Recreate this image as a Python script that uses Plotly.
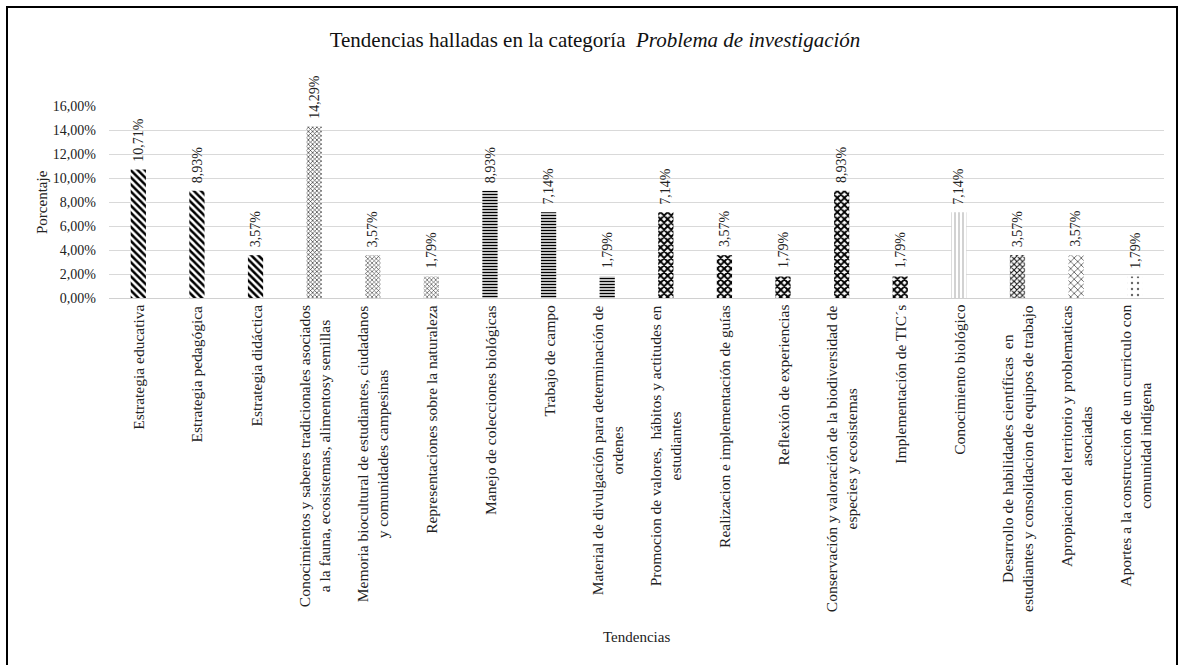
import plotly.graph_objects as go

categories = [
    "Estrategia educativa",
    "Estrategia pedagógica",
    "Estrategia didáctica",
    "Conocimientos y saberes tradicionales asociados<br>a la fauna, ecosistemas, alimentosy semillas",
    "Memoria biocultural de estudiantes, ciudadanos<br>y comunidades campesinas",
    "Representaciones sobre la naturaleza",
    "Manejo de colecciones biológicas",
    "Trabajo de campo",
    "Material de divulgación para determinación de<br>ordenes",
    "Promocion de valores,  hábitos y actitudes en<br>estudiantes",
    "Realizacion e implementación de guías",
    "Reflexión de experiencias",
    "Conservación y valoración de la biodiversidad de<br>especies y ecosistemas",
    "Implementación de TIC´s",
    "Conocimiento biológico",
    "Desarrollo de habilidades científicas  en<br>estudiantes y consolidacion de equipos de trabajo",
    "Apropiacion del territorio y problematicas<br>asociadas",
    "Aportes a la construccion de un curriculo con<br>comunidad indígena",
]
values = [10.71, 8.93, 3.57, 14.29, 3.57, 1.79, 8.93, 7.14, 1.79,
          7.14, 3.57, 1.79, 8.93, 1.79, 7.14, 3.57, 3.57, 1.79]
y_ticks = [0, 2, 4, 6, 8, 10, 12, 14, 16]
y_ticktext = [f"{t:.2f}".replace(".", ",") + "%" for t in y_ticks]

# pattern styles per bar (presentation only)
pat_shape = ["\\", "\\", "\\", "x", "x", "x", "-", "-", "-",
             "x", "x", "x", "x", "x", "|", "x", "x", "."]
pat_fg = (["#000"] * 3 + ["#333"] * 3 + ["#000"] * 3 + ["#000"] * 5
          + ["#666", "#111", "#333", "#666"])
pat_size = [5, 5, 5, 3, 3, 3, 3, 3, 3, 5, 5, 5, 5, 5, 4, 4, 5, 6]
pat_sol = [0.5, 0.5, 0.5, 0.4, 0.35, 0.35, 0.5, 0.5, 0.5,
           0.62, 0.62, 0.62, 0.62, 0.62, 0.15, 0.45, 0.25, 0.12]

FONT = "Liberation Serif"
W, H = 1182, 665
ML, MR, MT, MB = 109, 18, 106, 367
PW, PH = W - ML - MR, H - MT - MB

fig = go.Figure()
fig.add_trace(go.Bar(
    x=categories, y=values,
    marker=dict(
        color="white",
        line=dict(width=0),
        pattern=dict(shape=pat_shape, fgcolor=pat_fg, bgcolor="white",
                     size=pat_size, solidity=pat_sol, fillmode="replace",
                     fgopacity=1),
    ),
    hoverinfo="skip",
))

annotations = []
for c, v in zip(categories, values):
    annotations.append(dict(
        x=c, y=v, xref="x", yref="y", text=f"{v:.2f}".replace(".", ",") + "%",
        textangle=-90, showarrow=False, yanchor="bottom", xanchor="center",
        yshift=6, font=dict(family=FONT, size=14, color="#222"),
    ))
    annotations.append(dict(
        x=c, y=0, xref="x", yref="y", text=c, textangle=-90, showarrow=False,
        yanchor="top", xanchor="center", yshift=-5, align="center",
        font=dict(family=FONT, size=15.5, color="#222"),
    ))

annotations.append(dict(
    x=0.5, y=0, xref="paper", yref="paper", text="Tendencias", showarrow=False,
    yanchor="middle", xanchor="center", yshift=-(637 - (H - MB)),
    font=dict(family=FONT, size=15, color="#222"),
))
annotations.append(dict(
    x=0, y=0.5, xref="paper", yref="paper", text="Porcentaje", showarrow=False,
    textangle=-90, yanchor="middle", xanchor="center", xshift=-(ML - 42),
    font=dict(family=FONT, size=15, color="#222"),
))

fig.update_layout(
    width=W, height=H,
    margin=dict(l=ML, r=MR, t=MT, b=MB, autoexpand=False),
    paper_bgcolor="white", plot_bgcolor="white",
    bargap=0.74,
    showlegend=False,
    font=dict(family=FONT),
    title=dict(
        text="Tendencias halladas en la categoría  <i>Problema de investigación</i>",
        x=595 / W, xanchor="center", y=1 - 40 / H, yanchor="middle",
        xref="container", yref="container",
        font=dict(family=FONT, size=21, color="#111"),
    ),
    xaxis=dict(showticklabels=False, showgrid=False, showline=False, ticks="",
               zeroline=False),
    yaxis=dict(
        range=[0, 16], tickvals=y_ticks, ticktext=y_ticktext,
        showgrid=True, gridcolor="#d9d9d9", gridwidth=1,
        zeroline=True, zerolinecolor="#d0d0d0", zerolinewidth=1,
        showline=False, ticks="", ticklabelstandoff=12,
        tickfont=dict(family=FONT, size=14, color="#222"),
    ),
    annotations=annotations,
    shapes=[dict(
        type="rect", xref="paper", yref="paper",
        x0=(7 - ML) / PW, x1=(1177 - ML) / PW,
        y0=(H - MB - 675) / PH, y1=(H - MB - 7) / PH,
        line=dict(color="black", width=2), fillcolor="rgba(0,0,0,0)",
        layer="above",
    )],
)

fig.write_html("out.html",
               config={"displayModeBar": False},
               post_script="document.body.style.margin='0px';document.body.style.overflow='hidden';")
